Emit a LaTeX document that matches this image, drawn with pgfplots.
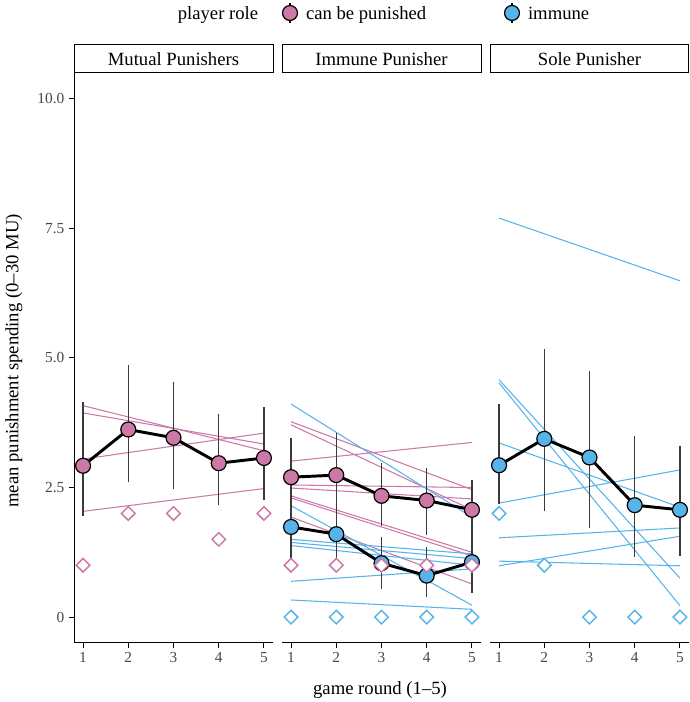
\documentclass[border=0pt]{standalone}
\usepackage{fontspec}
\setmainfont{Liberation Serif}
\usepackage{pgfplots}
\pgfplotsset{compat=1.18}
\definecolor{cpink}{HTML}{CC79A7}
\definecolor{cblue}{HTML}{56B4E9}
\definecolor{ebar}{HTML}{3A3A3A}
\pgfplotsset{
  panel/.style={
    scale only axis, width=149.25pt, height=427.5pt,
    xmin=0.8, xmax=5.2, ymin=-0.5, ymax=10.5,
    xtick={1,2,3,4,5},
    major tick length=3.75pt,
    tick style={black, line width=0.75pt},
    axis line style={black, line width=0.75pt},
    ticklabel style={font=\fontsize{11.5}{13}\selectfont, text=black!72},
    /pgf/number format/assume math mode=true,
    anchor=south west,
    unbounded coords=jump,
  },
  indiv/.style={line width=0.8pt, no markers},
  ebars/.style={ebar, line width=1.1pt, no markers},
  meanp/.style={black, line width=2.2pt, mark=*, mark size=5.6pt, mark options={draw=black, line width=0.9pt, fill=#1}},
  medp/.style={only marks, mark=square*, mark size=3.6pt, mark options={rotate=45, draw=#1, fill=white, line width=1.1pt}},
}
\begin{document}
\begin{tikzpicture}
\path[use as bounding box] (0,0) rectangle (516.75pt,526.5pt);

% ---------------- Panel 1: Mutual Punishers ----------------
\begin{axis}[panel, at={(55.5pt,44.25pt)},
  axis x line*=bottom, axis y line*=left,
  ytick={0,2.5,5,7.5,10}, yticklabels={0,2.5,5.0,7.5,10.0},
  tick align=outside]
\addplot[indiv, cpink] coordinates {(1,4.08) (5,3.21)};
\addplot[indiv, cpink] coordinates {(1,3.94) (5,3.34)};
\addplot[indiv, cpink] coordinates {(1,3.05) (5,3.55)};
\addplot[indiv, cpink] coordinates {(1,2.04) (5,2.48)};
\addplot[ebars] coordinates {(1,1.96) (1,4.16) (1,nan) (2,2.60) (2,4.87) (2,nan) (3,2.48) (3,4.53) (3,nan) (4,2.16) (4,3.91) (4,nan) (5,2.25) (5,4.06)};
\addplot[meanp=cpink] coordinates {(1,2.92) (2,3.62) (3,3.46) (4,2.97) (5,3.07)};
\addplot[medp=cpink] coordinates {(1,1.0) (2,2.0) (3,2.0) (4,1.5) (5,2.0)};
\end{axis}

% ---------------- Panel 2: Immune Punisher ----------------
\begin{axis}[panel, at={(211.5pt,44.25pt)},
  axis x line*=bottom, axis y line=none, ytick=\empty,
  tick align=outside]
\addplot[indiv, cpink] coordinates {(1,3.77) (5,2.46)};
\addplot[indiv, cpink] coordinates {(1,3.71) (5,2.07)};
\addplot[indiv, cpink] coordinates {(1,3.01) (5,3.37)};
\addplot[indiv, cpink] coordinates {(1,2.55) (5,2.50)};
\addplot[indiv, cpink] coordinates {(1,2.49) (5,2.28)};
\addplot[indiv, cpink] coordinates {(1,2.34) (5,1.25)};
\addplot[indiv, cpink] coordinates {(1,2.30) (5,1.18)};
\addplot[indiv, cpink] coordinates {(1,1.93) (5,0.64)};
\addplot[indiv, cblue] coordinates {(1,4.11) (5,1.93)};
\addplot[indiv, cblue] coordinates {(1,2.15) (5,0.23)};
\addplot[indiv, cblue] coordinates {(1,1.50) (5,1.22)};
\addplot[indiv, cblue] coordinates {(1,1.44) (5,1.13)};
\addplot[indiv, cblue] coordinates {(1,1.38) (5,1.00)};
\addplot[indiv, cblue] coordinates {(1,0.69) (5,0.93)};
\addplot[indiv, cblue] coordinates {(1,0.33) (5,0.15)};
\addplot[ebars] coordinates {(1,1.95) (1,3.45) (1,nan) (2,1.95) (2,3.55) (2,nan) (3,1.76) (3,2.97) (3,nan) (4,1.59) (4,2.88) (4,nan) (5,1.50) (5,2.65)};
\addplot[ebars] coordinates {(1,1.12) (1,2.30) (1,nan) (2,1.12) (2,2.10) (2,nan) (3,0.55) (3,1.54) (3,nan) (4,0.38) (4,1.35) (4,nan) (5,0.47) (5,1.60)};
\addplot[meanp=cpink] coordinates {(1,2.70) (2,2.74) (3,2.34) (4,2.25) (5,2.07)};
\addplot[meanp=cblue] coordinates {(1,1.74) (2,1.60) (3,1.04) (4,0.80) (5,1.06)};
\addplot[medp=cpink] coordinates {(1,1.0) (2,1.0) (3,1.0) (4,1.0) (5,1.0)};
\addplot[medp=cblue] coordinates {(1,0) (2,0) (3,0) (4,0) (5,0)};
\end{axis}

% ---------------- Panel 3: Sole Punisher ----------------
\begin{axis}[panel, at={(367.5pt,44.25pt)},
  axis x line*=bottom, axis y line=none, ytick=\empty,
  tick align=outside]
\addplot[indiv, cblue] coordinates {(1,7.70) (5,6.49)};
\addplot[indiv, cblue] coordinates {(1,4.58) (5,0.75)};
\addplot[indiv, cblue] coordinates {(1,4.52) (5,0.22)};
\addplot[indiv, cblue] coordinates {(1,3.36) (5,2.12)};
\addplot[indiv, cblue] coordinates {(1,2.20) (5,2.84)};
\addplot[indiv, cblue] coordinates {(1,1.53) (5,1.72)};
\addplot[indiv, cblue] coordinates {(1,0.99) (5,1.56)};
\addplot[indiv, cblue] coordinates {(1,1.08) (5,0.99)};
\addplot[ebars] coordinates {(1,2.18) (1,4.11) (1,nan) (2,2.05) (2,5.17) (2,nan) (3,1.72) (3,4.75) (3,nan) (4,1.16) (4,3.49) (4,nan) (5,1.18) (5,3.30)};
\addplot[meanp=cblue] coordinates {(1,2.93) (2,3.44) (3,3.08) (4,2.16) (5,2.07)};
\addplot[medp=cblue] coordinates {(1,2.0) (2,1.0) (3,0) (4,0) (5,0)};
\end{axis}

% strips
\draw[line width=0.75pt] (55.5pt,471.75pt) rectangle (204.75pt,492.75pt);
\draw[line width=0.75pt] (211.5pt,471.75pt) rectangle (360.75pt,492.75pt);
\draw[line width=0.75pt] (367.5pt,471.75pt) rectangle (516.3pt,492.75pt);
\node[font=\fontsize{14}{16}\selectfont, anchor=base] at (130.1pt,477.5pt) {Mutual Punishers};
\node[font=\fontsize{14}{16}\selectfont, anchor=base] at (286.1pt,477.5pt) {Immune Punisher};
\node[font=\fontsize{14}{16}\selectfont, anchor=base] at (442.1pt,477.5pt) {Sole Punisher};

% legend
\node[font=\fontsize{14}{16}\selectfont, anchor=base] at (163.5pt,512pt) {player role};
\draw[black, line width=0.9pt] (217.5pt,509.5pt) -- (217.5pt,524pt);
\draw[black, line width=0.9pt, fill=cpink] (217.5pt,516.75pt) circle (5.6pt);
\node[font=\fontsize{14}{16}\selectfont, anchor=base west] at (226pt,512pt) {can be punished};
\draw[black, line width=0.9pt] (384pt,509.5pt) -- (384pt,524pt);
\draw[black, line width=0.9pt, fill=cblue] (384pt,516.75pt) circle (5.6pt);
\node[font=\fontsize{14}{16}\selectfont, anchor=base west] at (392.5pt,512pt) {immune};

% axis titles
\node[font=\fontsize{14}{16}\selectfont] at (285pt,9pt) {game round (1–5)};
\node[font=\fontsize{14}{16}\selectfont, rotate=90] at (10.5pt,255.75pt) {mean punishment spending (0–30 MU)};
\end{tikzpicture}
\end{document}
